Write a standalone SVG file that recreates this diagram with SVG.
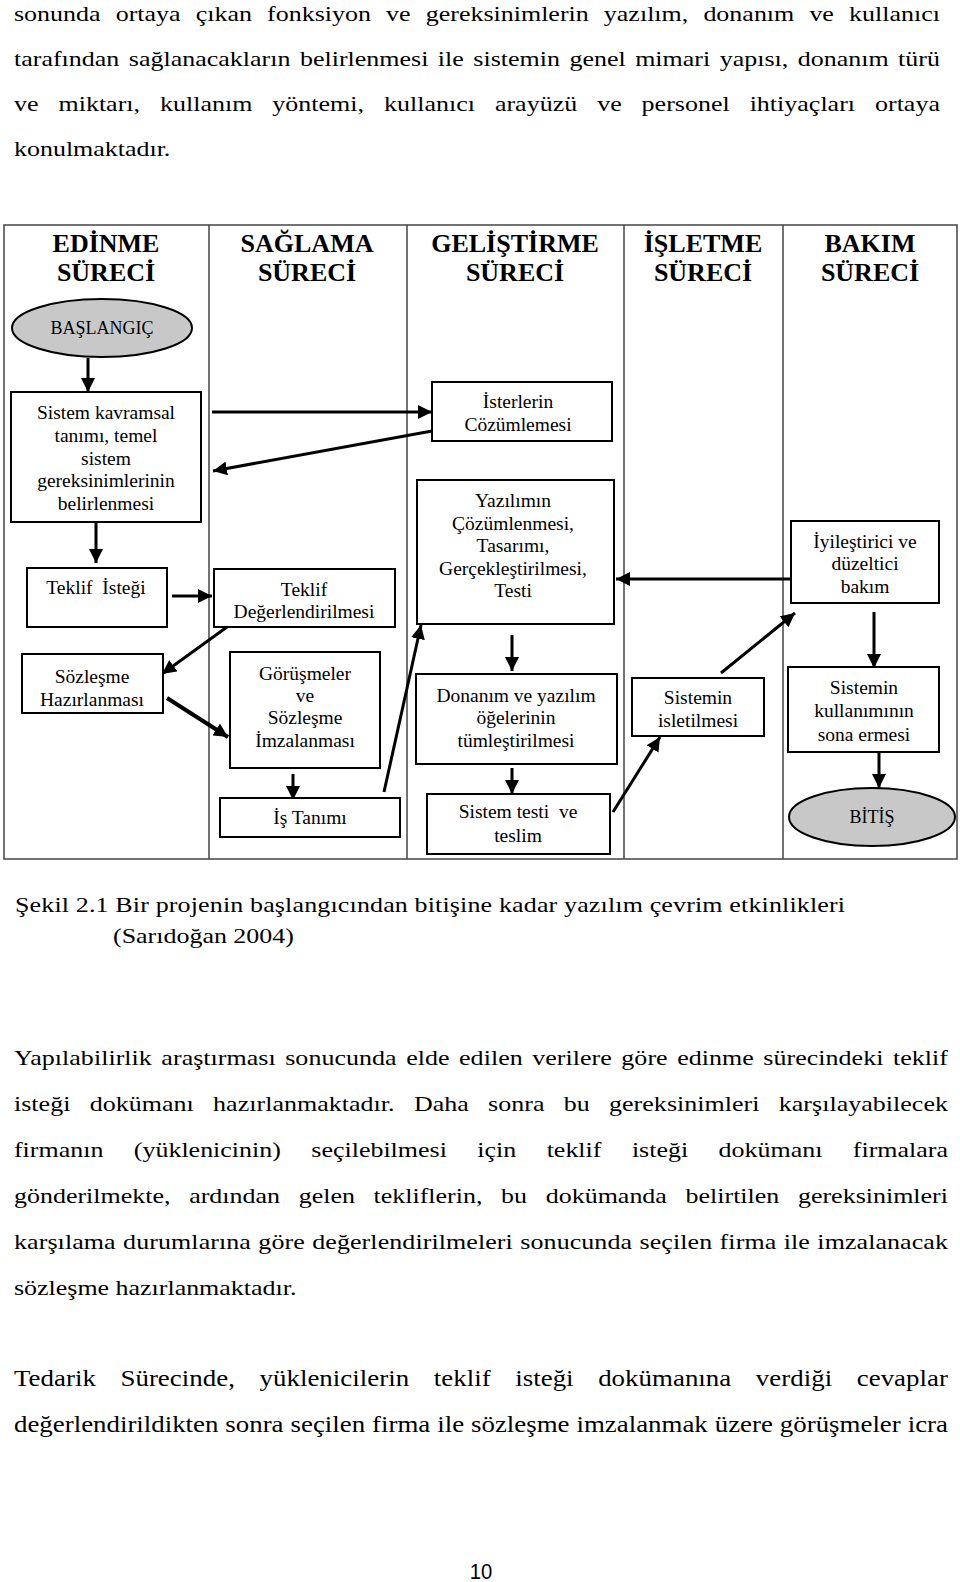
<svg xmlns="http://www.w3.org/2000/svg" width="960" height="1582" viewBox="0 0 960 1582">
<style>
.p{font-family:'Liberation Serif','Times New Roman',serif;font-size:22px;fill:#000}
.p3{font-family:'Liberation Serif','Times New Roman',serif;font-size:24px;fill:#000}
.h{font-family:'Liberation Serif','Times New Roman',serif;font-size:26px;font-weight:bold;text-anchor:middle;fill:#000}
.t{font-family:'Liberation Serif','Times New Roman',serif;font-size:19.5px;text-anchor:middle;fill:#000}
.e{font-family:'Liberation Serif','Times New Roman',serif;font-size:18px;text-anchor:middle;fill:#000}
.box{fill:#fff;stroke:#000;stroke-width:2}
.ell{fill:#c8c8c8;stroke:#000;stroke-width:2}
.lane{fill:none;stroke:#444;stroke-width:1.5}
.c{fill:none;stroke:#000;stroke-width:3;marker-end:url(#ah)}
.pn{font-family:'Liberation Sans',Arial,sans-serif;font-size:22.5px;text-anchor:middle;fill:#000}
</style>
<defs>
<marker id="ah" markerUnits="userSpaceOnUse" markerWidth="14" markerHeight="14" refX="14" refY="7" orient="auto">
<path d="M0,0 L14,7 L0,14 z" fill="#000"/>
</marker>
</defs>
<rect width="960" height="1582" fill="#fff"/>

<g id="text-top" transform="scale(1.18,1)">
<text class="p" x="11.86" y="21" textLength="784.7" lengthAdjust="spacing" word-spacing="7.3">sonunda ortaya çıkan fonksiyon ve gereksinimlerin yazılım, donanım ve kullanıcı</text>
<text class="p" x="11.86" y="66" textLength="784.7" lengthAdjust="spacing" word-spacing="2.5">tarafından sağlanacakların belirlenmesi ile sistemin genel mimari yapısı, donanım türü</text>
<text class="p" x="11.86" y="111" textLength="784.7" lengthAdjust="spacing" word-spacing="11.4">ve miktarı, kullanım yöntemi, kullanıcı arayüzü ve personel ihtiyaçları ortaya</text>
<text class="p" x="11.86" y="156">konulmaktadır.</text>
</g>

<g id="lanes">
<rect x="4" y="225" width="953" height="634" class="lane"/>
<line x1="209" y1="225" x2="209" y2="859" class="lane"/>
<line x1="407" y1="225" x2="407" y2="859" class="lane"/>
<line x1="624" y1="225" x2="624" y2="859" class="lane"/>
<line x1="783" y1="225" x2="783" y2="859" class="lane"/>
<text class="h" x="106" y="252">EDİNME</text>
<text class="h" x="106" y="281">SÜRECİ</text>
<text class="h" x="307" y="252">SAĞLAMA</text>
<text class="h" x="307" y="281">SÜRECİ</text>
<text class="h" x="515" y="252">GELİŞTİRME</text>
<text class="h" x="515" y="281">SÜRECİ</text>
<text class="h" x="703" y="252">İŞLETME</text>
<text class="h" x="703" y="281">SÜRECİ</text>
<text class="h" x="870" y="252">BAKIM</text>
<text class="h" x="870" y="281">SÜRECİ</text>
</g>

<g id="connectors">
<line class="c" x1="88" y1="358" x2="88" y2="392"/>
<line class="c" x1="96" y1="522" x2="96" y2="563"/>
<line class="c" x1="172" y1="596" x2="212" y2="596"/>
<line class="c" x1="212" y1="412" x2="432" y2="412"/>
<line class="c" x1="432" y1="431" x2="213" y2="471"/>
<line class="c" x1="227" y1="627" x2="162" y2="674"/>
<line class="c" x1="167" y1="698" x2="228" y2="737" style="stroke-width:4"/>
<line class="c" x1="293" y1="774" x2="293" y2="800"/>
<line class="c" x1="384" y1="792" x2="421" y2="625"/>
<line class="c" x1="512" y1="635" x2="512" y2="671"/>
<line class="c" x1="512" y1="768" x2="512" y2="794"/>
<line class="c" x1="613" y1="812" x2="660" y2="737"/>
<line class="c" x1="721" y1="673" x2="795" y2="613"/>
<line class="c" x1="793" y1="579" x2="616" y2="579"/>
<line class="c" x1="874" y1="612" x2="874" y2="668"/>
<line class="c" x1="879" y1="752" x2="879" y2="788"/>
</g>

<g id="n-baslangic">
<ellipse class="ell" cx="102" cy="328" rx="90" ry="29"/>
<text class="e" x="102" y="334">BAŞLANGIÇ</text>
</g>
<g id="n-sistem-kavramsal">
<rect class="box" x="11" y="392" width="190" height="130"/>
<text class="t" x="106" y="419">Sistem kavramsal</text>
<text class="t" x="106" y="442">tanımı, temel</text>
<text class="t" x="106" y="465">sistem</text>
<text class="t" x="106" y="487">gereksinimlerinin</text>
<text class="t" x="106" y="510">belirlenmesi</text>
</g>
<g id="n-teklif-istegi">
<rect class="box" x="27" y="568" width="140" height="59"/>
<text class="t" x="96" y="594" xml:space="preserve">Teklif  İsteği</text>
</g>
<g id="n-teklif-degerlendirilmesi">
<rect class="box" x="214" y="569" width="181" height="58"/>
<text class="t" x="304" y="596">Teklif</text>
<text class="t" x="304" y="618">Değerlendirilmesi</text>
</g>
<g id="n-isterlerin">
<rect class="box" x="432" y="382" width="180" height="59"/>
<text class="t" x="518" y="408">İsterlerin</text>
<text class="t" x="518" y="431">Cözümlemesi</text>
</g>
<g id="n-yazilimin">
<rect class="box" x="417" y="480" width="197" height="144"/>
<text class="t" x="513" y="507">Yazılımın</text>
<text class="t" x="513" y="530">Çözümlenmesi,</text>
<text class="t" x="513" y="552">Tasarımı,</text>
<text class="t" x="513" y="575">Gerçekleştirilmesi,</text>
<text class="t" x="513" y="597">Testi</text>
</g>
<g id="n-iyilestirici">
<rect class="box" x="791" y="521" width="148" height="82"/>
<text class="t" x="865" y="548">İyileştirici ve</text>
<text class="t" x="865" y="570">düzeltici</text>
<text class="t" x="865" y="593">bakım</text>
</g>
<g id="n-sozlesme">
<rect class="box" x="22" y="654" width="141" height="59"/>
<text class="t" x="92" y="683">Sözleşme</text>
<text class="t" x="92" y="706">Hazırlanması</text>
</g>
<g id="n-gorusmeler">
<rect class="box" x="230" y="652" width="150" height="116"/>
<text class="t" x="305" y="680">Görüşmeler</text>
<text class="t" x="305" y="702">ve</text>
<text class="t" x="305" y="724">Sözleşme</text>
<text class="t" x="305" y="747">İmzalanması</text>
</g>
<g id="n-is-tanimi">
<rect class="box" x="220" y="798" width="180" height="39"/>
<text class="t" x="310" y="824">İş Tanımı</text>
</g>
<g id="n-donanim">
<rect class="box" x="416" y="674" width="201" height="90"/>
<text class="t" x="516" y="702">Donanım ve yazılım</text>
<text class="t" x="516" y="724">öğelerinin</text>
<text class="t" x="516" y="747">tümleştirilmesi</text>
</g>
<g id="n-sistem-testi">
<rect class="box" x="427" y="794" width="183" height="60"/>
<text class="t" x="518" y="818" xml:space="preserve">Sistem testi  ve</text>
<text class="t" x="518" y="842">teslim</text>
</g>
<g id="n-isletilmesi">
<rect class="box" x="632" y="678" width="132" height="58"/>
<text class="t" x="698" y="704">Sistemin</text>
<text class="t" x="698" y="727">isletilmesi</text>
</g>
<g id="n-kullanim-sona">
<rect class="box" x="788" y="667" width="151" height="85"/>
<text class="t" x="864" y="694">Sistemin</text>
<text class="t" x="864" y="717">kullanımının</text>
<text class="t" x="864" y="741">sona ermesi</text>
</g>
<g id="n-bitis">
<ellipse class="ell" cx="872" cy="817" rx="83" ry="29"/>
<text class="e" x="872" y="823">BİTİŞ</text>
</g>

<g id="caption" transform="scale(1.18,1)">
<text class="p" x="12.7" y="912" textLength="703.4" lengthAdjust="spacing">Şekil 2.1 Bir projenin başlangıcından bitişine kadar yazılım çevrim etkinlikleri</text>
<text class="p" x="95.8" y="943">(Sarıdoğan 2004)</text>
</g>

<g id="text-bottom" transform="scale(1.18,1)">
<text class="p" x="11.86" y="1065" textLength="791.5" lengthAdjust="spacing" word-spacing="2.5">Yapılabilirlik araştırması sonucunda elde edilen verilere göre edinme sürecindeki teklif</text>
<text class="p" x="11.86" y="1111" textLength="791.5" lengthAdjust="spacing" word-spacing="10.8">isteği dokümanı hazırlanmaktadır. Daha sonra bu gereksinimleri karşılayabilecek</text>
<text class="p" x="11.86" y="1157" textLength="791.5" lengthAdjust="spacing" word-spacing="20.3">firmanın (yüklenicinin) seçilebilmesi için teklif isteği dokümanı firmalara</text>
<text class="p" x="11.86" y="1203" textLength="791.5" lengthAdjust="spacing" word-spacing="10.3">gönderilmekte, ardından gelen tekliflerin, bu dokümanda belirtilen gereksinimleri</text>
<text class="p" x="11.86" y="1249" textLength="791.5" lengthAdjust="spacing" word-spacing="0.7">karşılama durumlarına göre değerlendirilmeleri sonucunda seçilen firma ile imzalanacak</text>
<text class="p" x="11.86" y="1295">sözleşme hazırlanmaktadır.</text>
</g>
<g id="text-last" transform="scale(1.12,1)">
<text class="p3" x="12.5" y="1386" textLength="833.9" lengthAdjust="spacing" word-spacing="15.9">Tedarik Sürecinde, yüklenicilerin teklif isteği dokümanına verdiği cevaplar</text>
<text class="p3" x="12.5" y="1432" textLength="833.9" lengthAdjust="spacing" word-spacing="0.2">değerlendirildikten sonra seçilen firma ile sözleşme imzalanmak üzere görüşmeler icra</text>
</g>
<g transform="translate(481,1579) scale(0.9,1)">
<text class="pn" x="0" y="0">10</text>
</g>
</svg>
